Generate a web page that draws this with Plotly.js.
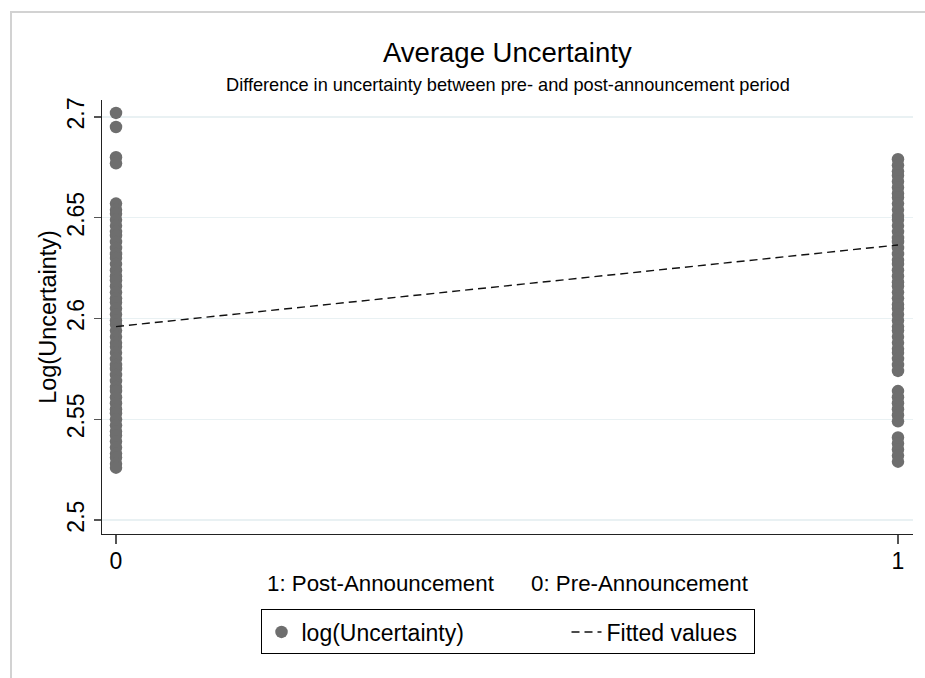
<!DOCTYPE html>
<html>
<head>
<meta charset="utf-8">
<script src="https://cdn.plot.ly/plotly-3.0.1.min.js"></script>
<style>
  html, body { margin: 0; padding: 0; background: #fff; }
  #wrap { position: relative; width: 925px; height: 678px; }
  #chart { width: 925px; height: 678px; }
  #frame { position: absolute; left: 10px; top: 11px; right: 0; bottom: 0;
           border-left: 2px solid #d2d2d2; border-top: 2px solid #d2d2d2; pointer-events: none; }
</style>
</head>
<body>
<div id="wrap">
  <div id="chart"></div>
  <div id="frame"></div>
</div>
<script>
// ---- data ----
const groupPre = 0;   // 0: Pre-Announcement
const groupPost = 1;  // 1: Post-Announcement

const preValues = [
  2.702, 2.695, 2.680, 2.677,
  2.657, 2.654, 2.652, 2.649, 2.646, 2.643, 2.641, 2.638, 2.635, 2.632,
  2.630, 2.627, 2.624, 2.621, 2.619, 2.616, 2.613, 2.610, 2.608, 2.605,
  2.602, 2.599, 2.597, 2.594, 2.591, 2.588, 2.586, 2.583, 2.580, 2.577,
  2.575, 2.572, 2.569, 2.566, 2.564, 2.561, 2.558, 2.555, 2.553, 2.550,
  2.547, 2.544, 2.542, 2.539, 2.536, 2.533, 2.531, 2.528, 2.526
];

const postValues = [
  2.679, 2.676, 2.673, 2.671, 2.668, 2.665, 2.662, 2.660, 2.657, 2.654,
  2.651, 2.649, 2.646, 2.643, 2.640, 2.638, 2.635, 2.632, 2.629, 2.627,
  2.624, 2.621, 2.618, 2.616, 2.613, 2.610, 2.607, 2.605, 2.602, 2.599,
  2.596, 2.594, 2.591, 2.588, 2.585, 2.583, 2.580, 2.577, 2.574,
  2.564, 2.561, 2.558, 2.555, 2.552, 2.549,
  2.541, 2.538, 2.535, 2.532, 2.529
];

const fittedX = [0, 1];
const fittedY = [2.5960, 2.6365];

const yTickVals = [2.5, 2.55, 2.6, 2.65, 2.7];
const yTickText = ["2.5", "2.55", "2.6", "2.65", "2.7"];
const xTickVals = [0, 1];
const xTickText = ["0", "1"];

// ---- build traces ----
const scatterX = preValues.map(() => groupPre).concat(postValues.map(() => groupPost));
const scatterY = preValues.concat(postValues);

const FONT = '"Liberation Sans", Arial, Helvetica, sans-serif';

const traces = [
  {
    type: 'scatter', mode: 'markers', name: 'log(Uncertainty)',
    x: scatterX, y: scatterY,
    marker: { color: '#6e6e6e', size: 12.5, line: { width: 0 } },
    legendwidth: 260,
    cliponaxis: false
  },
  {
    type: 'scatter', mode: 'lines', name: 'Fitted values',
    x: fittedX, y: fittedY,
    line: { color: '#111', width: 1.4, dash: '8px,5px' },
    legendwidth: 142
  }
];

const layout = {
  width: 925, height: 678,
  paper_bgcolor: '#fff', plot_bgcolor: '#fff',
  font: { family: FONT, color: '#000' },
  margin: { l: 102, r: 12, t: 100, b: 144, pad: 0 },
  showlegend: true,
  title: { text: '' },
  annotations: [
    { text: 'Average Uncertainty', xref: 'paper', yref: 'paper', x: 0.5, y: 1, yshift: 48,
      xanchor: 'center', yanchor: 'middle', showarrow: false, font: { size: 27.5, family: FONT, color: '#000' } },
    { text: 'Difference in uncertainty between pre- and post-announcement period', xref: 'paper', yref: 'paper',
      x: 0.5, y: 1, yshift: 15, xanchor: 'center', yanchor: 'middle', showarrow: false,
      font: { size: 18.2, family: FONT, color: '#000' } }
  ],
  xaxis: {
    range: [-0.0179, 1.0192], fixedrange: true,
    tickmode: 'array', tickvals: xTickVals, ticktext: xTickText,
    ticks: 'outside', ticklen: 9, tickwidth: 1.3, tickcolor: '#555',
    tickfont: { size: 23, family: FONT, color: '#000' },
    ticklabelstandoff: -3,
    showline: true, linecolor: '#222', linewidth: 1.4,
    showgrid: false, zeroline: false, automargin: false,
    title: { text: '1: Post-Announcement\u00a0\u00a0\u00a0\u00a0\u00a0\u00a00: Pre-Announcement',
             font: { size: 22.3, family: FONT, color: '#000' }, standoff: 2 }
  },
  yaxis: {
    range: [2.4931, 2.7084], fixedrange: true,
    tickmode: 'array', tickvals: yTickVals, ticktext: yTickText,
    tickangle: -90,
    ticks: 'outside', ticklen: 7, tickwidth: 1.3, tickcolor: '#555',
    tickfont: { size: 23, family: FONT, color: '#000' },
    showline: true, linecolor: '#222', linewidth: 1.4,
    showgrid: true, gridcolor: '#e9f1f3', gridwidth: 1.2,
    zeroline: false, automargin: false,
    title: { text: 'Log(Uncertainty)', font: { size: 23.5, family: FONT, color: '#000' }, standoff: 0 }
  },
  legend: {
    orientation: 'h', x: 0.5, xanchor: 'center', y: -0.2258, yanchor: 'middle',
    bordercolor: '#000', borderwidth: 1, bgcolor: '#fff',
    font: { size: 23, family: FONT, color: '#000' },
    itemwidth: 30, traceorder: 'normal'
  }
};

Plotly.newPlot('chart', traces, layout, { staticPlot: true, displayModeBar: false });
</script>
</body>
</html>
